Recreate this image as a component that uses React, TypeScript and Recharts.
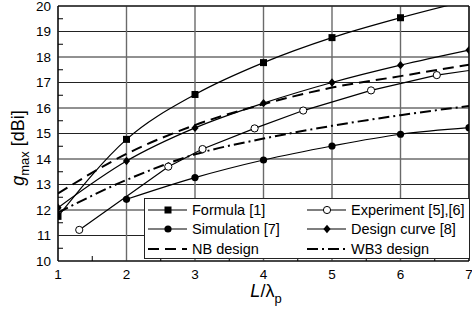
import React from "react";
import { LineChart, Line, XAxis, YAxis, CartesianGrid, ReferenceLine, Legend } from "recharts";

// axis ticks (majors get labels + grid, halves get small inner ticks)
const xTicks = [1, 1.5, 2, 2.5, 3, 3.5, 4, 4.5, 5, 5.5, 6, 6.5, 7];
const yTicks = [10, 10.5, 11, 11.5, 12, 12.5, 13, 13.5, 14, 14.5, 15, 15.5, 16, 16.5, 17, 17.5, 18, 18.5, 19, 19.5, 20];
const xMajor = [1, 2, 3, 4, 5, 6, 7];
const yMajor = [10, 11, 12, 13, 14, 15, 16, 17, 18, 19, 20];

// series, L/lambda_p vs g_max [dBi]
const formulaX = [1, 2, 3, 4, 5, 6, 7];
const formulaG = [11.75, 14.77, 16.53, 17.78, 18.76, 19.54, 20.23];

const simulationX = [2, 3, 4, 5, 6, 7];
const simulationG = [12.42, 13.27, 13.96, 14.51, 14.97, 15.23];

const experimentX = [1.31, 2.61, 3.11, 3.87, 4.58, 5.57, 6.53];
const experimentG = [11.22, 13.7, 14.39, 15.2, 15.9, 16.69, 17.29];
// fitted line runs on to the right edge past the last measurement
const experimentEndX = 7;
const experimentEndG = 17.47;

const designX = [1, 2, 3, 4, 5, 6, 7];
const designG = [12.09, 13.92, 15.22, 16.19, 17.0, 17.68, 18.27];

const nbX = [1, 2, 3, 4, 5, 6, 7];
const nbG = [12.65, 14.2, 15.33, 16.15, 16.8, 17.25, 17.7];

const wb3X = [1, 2, 3, 4, 5, 6, 7];
const wb3G = [11.9, 13.18, 14.18, 14.8, 15.3, 15.72, 16.08];

const toPoints = (xs: number[], ys: number[]) => xs.map((x, i) => ({ x, y: ys[i] }));

const FONT = "'Liberation Sans', Arial, sans-serif";
const X_TICK_MARGIN = 8;
const Y_TICK_MARGIN = 7;

type Marker = "square" | "circle" | "open" | "diamond" | "none";

function drawMarker(kind: Marker, cx: number, cy: number, key?: string | number) {
  if (kind === "square") return <rect key={key} x={cx - 3.5} y={cy - 3.5} width={7} height={7} fill="#000" />;
  if (kind === "circle") return <circle key={key} cx={cx} cy={cy} r={3.6} fill="#000" />;
  if (kind === "open") return <circle key={key} cx={cx} cy={cy} r={3.6} fill="#fff" stroke="#000" strokeWidth={1} />;
  if (kind === "diamond")
    return <polygon key={key} points={`${cx},${cy - 4.2} ${cx + 3.6},${cy} ${cx},${cy + 4.2} ${cx - 3.6},${cy}`} fill="#000" />;
  return <g key={key} />;
}

// marker only for real measured points inside the frame
const dotFor = (kind: Marker, count: number) => (p: any) => {
  const inside = p.index < count && p.payload && p.payload.y <= 20;
  if (!inside) return <g key={`d-${p.index}`} />;
  return drawMarker(kind, p.cx, p.cy, `d-${p.index}`);
};

const series = [
  { name: "Formula [1]", data: toPoints(formulaX, formulaG), marker: "square" as Marker, count: formulaX.length, dash: undefined, width: 1.2, curve: "monotone" },
  { name: "Experiment [5],[6]", data: [...toPoints(experimentX, experimentG), { x: experimentEndX, y: experimentEndG }], marker: "open" as Marker, count: experimentX.length, dash: undefined, width: 1.2, curve: "linear" },
  { name: "Simulation [7]", data: toPoints(simulationX, simulationG), marker: "circle" as Marker, count: simulationX.length, dash: undefined, width: 1.2, curve: "monotone" },
  { name: "Design curve [8]", data: toPoints(designX, designG), marker: "diamond" as Marker, count: designX.length, dash: undefined, width: 1.2, curve: "monotone" },
  { name: "NB design", data: toPoints(nbX, nbG), marker: "none" as Marker, count: 0, dash: "11 6", width: 2, curve: "monotone" },
  { name: "WB3 design", data: toPoints(wb3X, wb3G), marker: "none" as Marker, count: 0, dash: "11 4 2 4", width: 2, curve: "monotone" },
];

const XTick = (props: any) => {
  const { x, y, payload } = props;
  const v = payload.value;
  if (Number.isInteger(v)) {
    return (
      <text x={x} y={y} dy="0.71em" textAnchor="middle" fontSize={13.5} fontFamily={FONT} fill="#000">
        {v}
      </text>
    );
  }
  const axisY = y - X_TICK_MARGIN;
  return <line x1={x} x2={x} y1={axisY} y2={axisY - 5} stroke="#000" />;
};

const YTick = (props: any) => {
  const { x, y, payload } = props;
  const v = payload.value;
  if (Number.isInteger(v)) {
    return (
      <text x={x} y={y} dy="0.355em" textAnchor="end" fontSize={13.5} fontFamily={FONT} fill="#000">
        {v}
      </text>
    );
  }
  const axisX = x + Y_TICK_MARGIN;
  return <line x1={axisX} x2={axisX + 5} y1={y} y2={y} stroke="#000" />;
};

const XLabel = () => (
  <text x={266} y={297} textAnchor="middle" fontSize={18} fontFamily={FONT} fill="#000">
    <tspan fontStyle="italic">L</tspan>
    <tspan>/λ</tspan>
    <tspan dy={6} fontSize={13}>p</tspan>
  </text>
);

const YLabel = () => (
  <text x={24} y={148} transform="rotate(-90 24 148)" textAnchor="middle" fontSize={18} fontFamily={FONT} fill="#000">
    <tspan fontStyle="italic">g</tspan>
    <tspan dy={5} fontSize={13}>max</tspan>
    <tspan dy={-5}> [dBi]</tspan>
  </text>
);

function LegendSample({ s }: { s: (typeof series)[number] }) {
  return (
    <svg width={39} height={12} style={{ display: "block", flex: "none" }}>
      <line x1={0} x2={39} y1={6} y2={6} stroke="#000" strokeWidth={s.width} strokeDasharray={s.dash} />
      {drawMarker(s.marker, 20, 6)}
    </svg>
  );
}

function LegendBox() {
  return (
    <div
      style={{
        boxSizing: "border-box",
        width: 326,
        height: 61,
        border: "1px solid #222",
        background: "#fff",
        paddingTop: 1,
        paddingLeft: 3,
        display: "grid",
        gridTemplateColumns: "159px 160px",
        gridAutoRows: "19.5px",
        fontFamily: FONT,
        fontSize: 14.5,
        color: "#000",
      }}
    >
      {series.map((s) => (
        <div key={s.name} style={{ display: "flex", alignItems: "center", whiteSpace: "nowrap" }}>
          <LegendSample s={s} />
          <span style={{ marginLeft: 5, lineHeight: "16px" }}>{s.name}</span>
        </div>
      ))}
    </div>
  );
}

export default function App() {
  return (
    <div style={{ position: "absolute", left: 0, top: 0, width: 472, height: 312, background: "#fff" }}>
      <LineChart width={472} height={312} margin={{ top: 6, right: 3, left: 8, bottom: 21 }}>
        <CartesianGrid vertical={false} horizontalValues={yMajor} stroke="#222" strokeWidth={1} />
        <CartesianGrid horizontal={false} verticalValues={xMajor} stroke="#6a6a6a" strokeWidth={1.4} />
        <XAxis
          type="number"
          dataKey="x"
          domain={[1, 7]}
          ticks={xTicks}
          interval={0}
          allowDataOverflow
          height={30}
          tickSize={0}
          tickMargin={X_TICK_MARGIN}
          tick={<XTick />}
          axisLine={{ stroke: "#000", strokeWidth: 1.2 }}
          label={<XLabel />}
        />
        <YAxis
          type="number"
          dataKey="y"
          domain={[10, 20]}
          ticks={yTicks}
          interval={0}
          allowDataOverflow
          width={50}
          tickSize={0}
          tickMargin={Y_TICK_MARGIN}
          tick={<YTick />}
          axisLine={{ stroke: "#000", strokeWidth: 1.2 }}
          label={<YLabel />}
        />
        <ReferenceLine y={20} stroke="#000" strokeWidth={1.2} />
        <ReferenceLine x={7} stroke="#000" strokeWidth={1.2} />
        {series.map((s) => (
          <Line
            key={s.name}
            name={s.name}
            data={s.data}
            dataKey="y"
            type={s.curve as any}
            stroke="#000"
            strokeWidth={s.width}
            strokeDasharray={s.dash}
            dot={s.count > 0 ? dotFor(s.marker, s.count) : false}
            activeDot={false}
            isAnimationActive={false}
          />
        ))}
        <Legend
          layout="horizontal"
          verticalAlign="middle"
          align="center"
          wrapperStyle={{ position: "absolute", left: 144, top: 198, width: 326, height: 61 }}
          content={() => <LegendBox />}
        />
      </LineChart>
    </div>
  );
}
